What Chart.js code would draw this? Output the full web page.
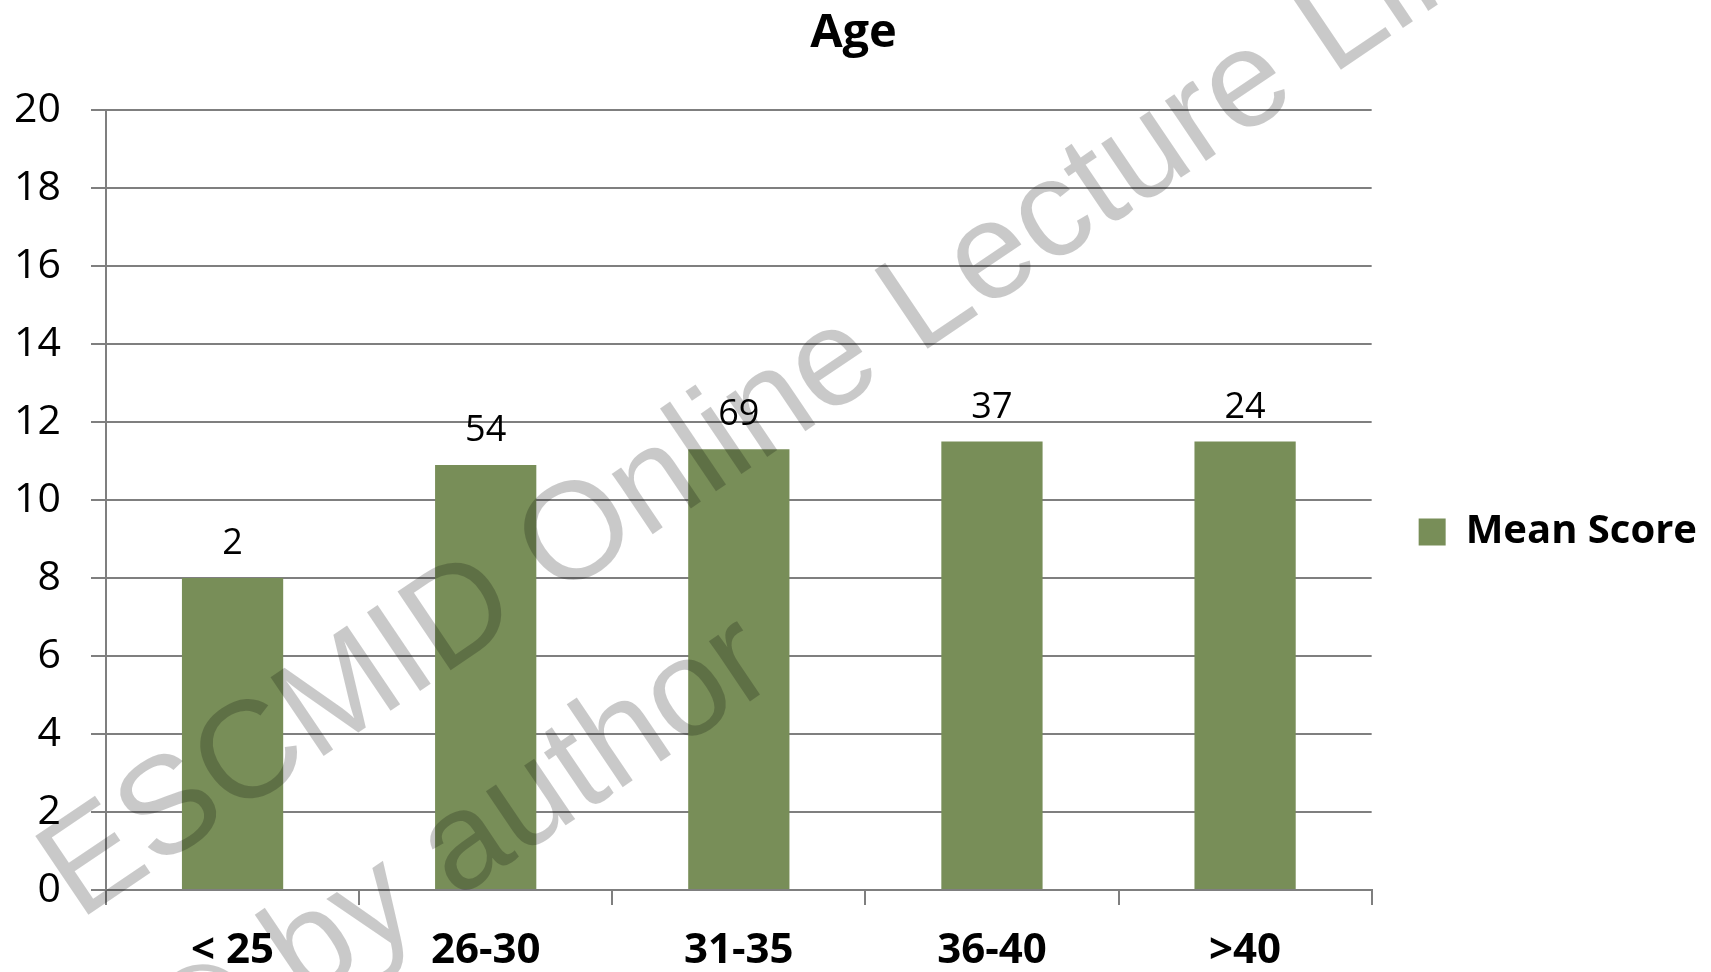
<!DOCTYPE html>
<html>
<head>
<meta charset="utf-8">
<script src="https://cdn.jsdelivr.net/npm/chart.js@4.4.1/dist/chart.umd.min.js"></script>
<style>
  html, body { margin: 0; padding: 0; background: #fff; }
  .chart { width: 1711px; height: 972px; position: relative; }
</style>
</head>
<body>
<div class="chart"><canvas id="c"></canvas></div>
<script>
const ageGroups = ['< 25', '26-30', '31-35', '36-40', '>40']
const meanScores = [8, 10.9, 11.3, 11.5, 11.5]
const groupCounts = ['2', '54', '69', '37', '24']
const seriesName = 'Mean Score'
const barColor = '#788e58'
const gridColor = '#7f7f7f'

// the small numbers sitting over each bar
const countLabels = {
  id: 'countLabels',
  afterDatasetsDraw(chart) {
    const ctx = chart.ctx
    const meta = chart.getDatasetMeta(0)
    ctx.save()
    ctx.font = '36px "Open Sans"'
    ctx.fillStyle = '#000'
    ctx.textAlign = 'center'
    ctx.textBaseline = 'alphabetic'
    meta.data.forEach((bar, i) => {
      ctx.fillText(groupCounts[i], bar.x, bar.y - 24)
    })
    ctx.restore()
  }
}

const watermark = {
  id: 'watermark',
  afterDraw(chart) {
    const ctx = chart.ctx
    ctx.save()
    ctx.translate(79, 921)
    ctx.rotate(-34 * Math.PI / 180)
    ctx.font = '138px "Liberation Sans"'
    ctx.fillStyle = 'rgba(0,0,0,0.21)'
    ctx.fillText('ESCMID Online Lecture Library', 0, 0)
    ctx.fillText('\u00a9 by author', 0, 193)
    ctx.restore()
  }
}

const ctx = document.getElementById('c').getContext('2d')
new Chart(ctx, {
  type: 'bar',
  data: {
    labels: ageGroups,
    datasets: [{
      label: seriesName,
      data: meanScores,
      backgroundColor: barColor,
      categoryPercentage: 0.4,
      barPercentage: 1
    }]
  },
  options: {
    responsive: true,
    maintainAspectRatio: false,
    animation: false,
    layout: { padding: { left: 0, right: 4, top: 0, bottom: 0 } },
    plugins: {
      legend: {
        position: 'right',
        fullSize: false,
        // empty title only pushes the entry a bit lower, like the original
        title: { display: true, text: '', font: { size: 10 }, padding: { top: 52, bottom: 0 } },
        labels: {
          boxWidth: 27,
          boxHeight: 27,
          padding: 47,
          color: '#000',
          font: { family: 'Open Sans', size: 40, weight: 'bold' }
        }
      },
      tooltip: { enabled: false },
      title: {
        display: true,
        text: 'Age',
        color: '#000',
        font: { family: 'Open Sans', size: 47, weight: 'bold' },
        padding: { top: 5, bottom: 48.6 }
      }
    },
    scales: {
      x: {
        afterFit(scale) { scale.height = 82 },
        grid: { drawOnChartArea: false, drawTicks: true, tickLength: 15, color: gridColor, lineWidth: 2, offset: true },
        border: { color: gridColor, width: 2 },
        ticks: { color: '#000', padding: 21, font: { family: 'Open Sans', size: 42, weight: 'bold' } }
      },
      y: {
        min: 0,
        max: 20,
        afterFit(scale) { scale.width = 106 },
        grid: { color: gridColor, lineWidth: 2, tickLength: 15 },
        border: { color: gridColor, width: 2 },
        ticks: { stepSize: 2, color: '#000', padding: 30, font: { family: 'Open Sans', size: 41 } }
      }
    }
  },
  plugins: [countLabels, watermark]
})
</script>
</body>
</html>
